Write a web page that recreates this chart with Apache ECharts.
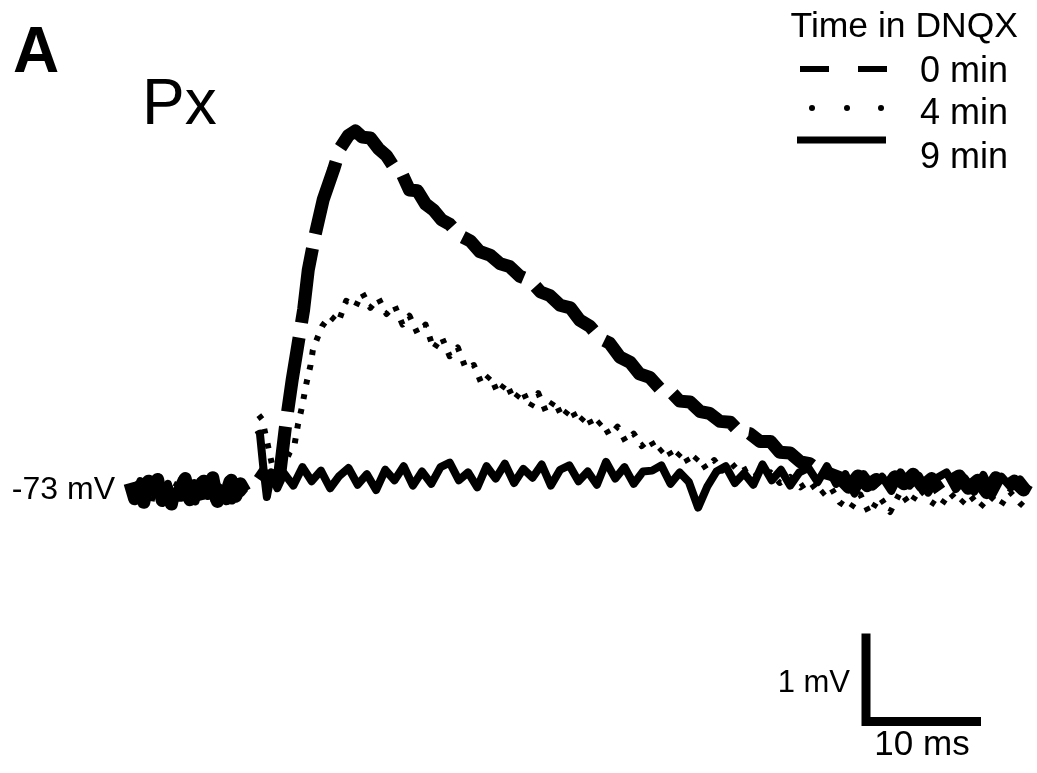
<!DOCTYPE html>
<html>
<head>
<meta charset="utf-8">
<script src="https://cdn.jsdelivr.net/npm/echarts@6/dist/echarts.min.js"></script>
<style>
html,body{margin:0;padding:0;background:#fff;}
#chart{width:1037px;height:773px;}
</style>
</head>
<body>
<div id="chart"></div>
<script>
// ---- data (time in ms, membrane potential in mV) ----
const seriesNames = ['0 min', '4 min', '9 min'];

const time0 = [0,0.4,0.8,1.2,1.6,2.0,2.4,2.8,3.2,3.6,4.0,4.4,4.8,5.2,5.6,6.0,6.4,6.8,7.2,7.6,8.0,8.4,8.8,9.2,9.6,10.0,10.6,
  11.1,12.2,13.0,13.5,14.1,14.6,15.1,15.5,16.1,16.8,17.7,18.3,19.0,19.6,20.2,20.9,21.6,22.3,23.0,23.7,24.3,25.0,25.7,26.4,27.1,27.8,28.7,29.6,30.4,31.3,32.2,33.0,33.9,34.8,35.7,36.5,37.4,38.3,39.1,40.0,40.9,41.7,42.6,43.5,44.3,45.2,46.1,47.0,47.8,48.7,49.6,50.4,51.3,52.2,53.0,53.9,54.8,55.7,56.5,57.4,58.3,59.1,60.0,60.9,
  61.7,62.5,63.3,64.1,64.9,65.7,66.5,67.3,68.1,68.9,69.7,70.5,71.3,72.1,72.9,73.7,74.5,75.3,76.1,76.9,77.7,78.0];
const mv0 = [-72.92,-73.1,-72.96,-73.14,-72.9,-73.05,-72.88,-73.12,-72.98,-73.16,-72.91,-73.06,-72.87,-73.11,-72.95,-73.15,-72.9,-73.04,-72.86,-73.13,-72.97,-73.1,-72.89,-73.07,-72.93,-73.02,null,
  -72.78,-72.88,-72.84,-72.30,-71.75,-71.35,-70.95,-70.50,-70.10,-69.70,-69.36,-69.11,-68.97,-68.92,-68.99,-69.00,-69.12,-69.20,-69.34,-69.42,-69.59,-69.60,-69.75,-69.82,-69.93,-69.98,-70.11,-70.17,-70.29,-70.33,-70.43,-70.46,-70.57,-70.62,-70.75,-70.79,-70.90,-70.93,-71.07,-71.14,-71.28,-71.33,-71.49,-71.55,-71.68,-71.72,-71.85,-71.88,-71.99,-72.00,-72.11,-72.13,-72.22,-72.23,-72.34,-72.36,-72.45,-72.45,-72.57,-72.58,-72.68,-72.70,-72.79,-72.82,
  -72.86,-72.97,-72.84,-72.95,-72.88,-73.0,-72.85,-72.93,-72.82,-72.96,-72.87,-73.02,-72.9,-72.84,-72.98,-72.89,-73.03,-72.86,-72.97,-72.9,-73.0,-72.93];

const time4 = [0.2,0.6,1.0,1.4,1.8,2.2,2.6,3.0,3.4,3.8,4.2,4.6,5.0,5.4,5.8,6.2,6.6,7.0,7.4,7.8,8.2,8.6,9.0,9.4,9.8,10.6,
  11.2,11.5,12.6,13.5,13.9,14.3,14.6,15.0,15.3,15.7,15.9,16.3,16.7,17.4,18.1,18.8,19.6,20.2,20.9,21.6,22.3,23.0,23.7,24.3,25.0,25.7,26.4,27.1,27.8,28.5,29.2,29.9,30.6,31.3,32.0,32.7,33.4,34.1,34.8,35.5,36.2,36.9,37.6,38.3,39.0,39.7,40.3,41.0,41.7,42.4,43.1,43.8,44.5,45.2,45.9,46.6,47.3,48.0,48.7,49.4,50.1,50.8,51.5,52.2,53.0,53.9,54.8,55.7,56.5,57.4,58.3,59.1,60.0,60.9,61.7,62.6,63.5,64.3,65.2,66.1,67.0,67.8,68.7,69.6,70.4,71.3,72.2,73.0,73.9,74.8,75.7,76.5,77.4,78.0];
const mv4 = [-73.05,-72.9,-73.15,-72.98,-73.18,-72.92,-73.08,-72.95,-73.2,-73.0,-72.9,-73.12,-72.97,-73.17,-72.93,-73.06,-73.14,-72.91,-73.1,-72.96,-73.19,-72.94,-73.08,-72.99,-73.03,null,
  -72.15,-72.2,-72.86,-72.68,-72.57,-72.49,-72.26,-72.03,-71.81,-71.58,-71.41,-71.27,-71.14,-71.02,-71.10,-70.85,-70.92,-70.76,-70.93,-70.82,-71.00,-70.90,-71.12,-71.02,-71.22,-71.12,-71.40,-71.26,-71.48,-71.38,-71.62,-71.58,-71.80,-71.70,-71.90,-71.78,-71.98,-71.86,-72.06,-71.90,-72.12,-71.98,-72.18,-72.06,-72.24,-72.14,-72.30,-72.22,-72.38,-72.28,-72.45,-72.36,-72.50,-72.42,-72.58,-72.50,-72.66,-72.56,-72.72,-72.62,-72.76,-72.66,-72.78,-72.68,-72.80,-72.74,-72.86,-72.80,-72.92,-72.85,-72.97,-72.90,-73.06,-72.96,-73.14,-73.22,-73.05,-73.27,-73.08,-73.25,-73.02,-73.17,-72.99,-73.13,-73.2,-73.03,-73.16,-73.05,-73.2,-73.07,-73.18,-73.02,-73.15,-73.22,-73.27];

const time9 = [0.1,0.5,0.9,1.3,1.7,2.1,2.5,2.9,3.3,3.7,4.1,4.5,4.9,5.3,5.7,6.1,6.5,6.9,7.3,7.7,8.1,8.5,8.9,9.3,9.7,10.0,10.6,
  11.0,11.3,11.6,11.9,12.3,12.8,
  13.4,14.2,15.0,15.8,16.6,17.4,18.2,19.0,19.8,20.6,21.4,22.2,23.0,23.8,24.6,25.4,26.2,27.0,27.8,28.6,29.4,30.2,31.0,31.8,32.6,33.4,34.2,35.0,35.8,36.6,37.4,38.2,39.0,39.8,40.6,41.4,42.2,43.0,43.8,44.6,45.4,46.2,47.0,47.8,48.6,49.4,50.2,51.0,51.8,52.6,53.4,54.2,55.0,55.8,56.6,57.4,58.2,59.0,59.8,60.6,61.4,62.2,63.0,63.8,64.6,65.4,66.2,67.0,67.8,68.6,69.4,70.2,71.0,71.8,72.6,73.4,74.2,75.0,75.8,76.6,77.4,78.0];
const mv9 = [-72.95,-73.08,-72.9,-73.12,-72.96,-73.04,-72.86,-73.1,-72.93,-73.15,-72.99,-72.88,-73.09,-72.94,-73.13,-72.9,-73.06,-72.87,-73.11,-72.97,-73.05,-72.89,-73.12,-72.95,-73.03,-72.98,null,
  -72.38,-72.36,-72.75,-73.08,-72.8,-72.98,
  -72.81,-72.95,-72.74,-72.90,-72.78,-72.98,-72.84,-72.75,-72.94,-72.82,-73.00,-72.77,-72.89,-72.73,-72.95,-72.79,-72.93,-72.74,-72.69,-72.89,-72.80,-72.97,-72.73,-72.87,-72.70,-72.92,-72.76,-72.86,-72.71,-72.95,-72.77,-72.72,-72.90,-72.79,-72.94,-72.68,-72.87,-72.74,-72.93,-72.79,-72.78,-72.72,-72.93,-72.80,-72.91,-73.20,-72.96,-72.79,-72.73,-72.92,-72.81,-72.94,-72.71,-72.89,-72.77,-72.95,-72.80,-72.75,-72.91,-72.73,-72.93,-72.82,-73.04,-72.82,-72.96,-72.85,-73.01,-72.80,-72.95,-72.84,-73.03,-72.86,-72.80,-72.99,-72.87,-73.02,-72.83,-73.05,-72.85,-72.97,-72.88,-72.98];

// scale bar: 1 mV vertical, 10 ms horizontal
const scaleBarTime = [64.0, 64.0, 74.0];
const scaleBarMv = [-74.63, -75.63, -75.63];

const restingLabel = -73;

// ---- build ----
function pairs(ts, vs) {
  const n = Math.min(ts.length, vs.length);
  const out = [];
  for (let i = 0; i < n; i++) out.push([ts[i], vs[i] === null ? '-' : vs[i]]);
  return out;
}
const FONT = '"Liberation Sans", Arial, Helvetica, sans-serif';

const chart = echarts.init(document.getElementById('chart'), null, {renderer: 'canvas'});
chart.setOption({
  animation: false,
  backgroundColor: '#fff',
  grid: {left: 130, top: 94, width: 897, height: 660, containLabel: false},
  xAxis: {type: 'value', min: 0, max: 78, show: false},
  yAxis: {
    type: 'value', min: -76, max: -68.5, interval: 0.5,
    axisLine: {show: false}, axisTick: {show: false}, splitLine: {show: false},
    axisLabel: {
      show: true, margin: 15, color: '#000', fontSize: 32, fontFamily: FONT,
      padding: [0, 0, 12, 0],
      formatter: v => Math.abs(v - restingLabel) < 1e-6 ? restingLabel + ' mV' : ''
    }
  },
  series: [
    {name: seriesNames[0], type: 'line', data: pairs(time0, mv0), symbol: 'none', silent: true,
      lineStyle: {color: '#000', width: 13, type: [75, 15], cap: 'butt', join: 'round'}},
    {name: seriesNames[1], type: 'line', data: pairs(time4, mv4), symbol: 'none', silent: true,
      lineStyle: {color: '#000', width: 6, type: [5, 10], cap: 'butt', join: 'round'}},
    {name: seriesNames[2], type: 'line', data: pairs(time9, mv9), symbol: 'none', silent: true,
      lineStyle: {color: '#000', width: 8, type: 'solid', join: 'round'}},
    {name: 'scale', type: 'line', data: pairs(scaleBarTime, scaleBarMv), symbol: 'none', silent: true, clip: false,
      lineStyle: {color: '#000', width: 9, join: 'miter', cap: 'butt'}}
  ],
  graphic: [
    {type: 'text', left: 13, top: 22, style: {text: 'A', font: 'bold 64px ' + FONT, fill: '#000'}},
    {type: 'text', left: 142, top: 74, style: {text: 'Px', font: '64px ' + FONT, fill: '#000'}},
    {type: 'text', style: {x: 1018, y: 27, text: 'Time in DNQX', font: '35.5px ' + FONT, fill: '#000', textAlign: 'right', textVerticalAlign: 'middle'}},
    {type: 'text', style: {x: 1008, y: 72, text: seriesNames[0], font: '36px ' + FONT, fill: '#000', textAlign: 'right', textVerticalAlign: 'middle'}},
    {type: 'text', style: {x: 1008, y: 114, text: seriesNames[1], font: '36px ' + FONT, fill: '#000', textAlign: 'right', textVerticalAlign: 'middle'}},
    {type: 'text', style: {x: 1008, y: 158, text: seriesNames[2], font: '36px ' + FONT, fill: '#000', textAlign: 'right', textVerticalAlign: 'middle'}},
    {type: 'line', shape: {x1: 800, y1: 69, x2: 887, y2: 69}, style: {stroke: '#000', lineWidth: 6, lineDash: [29, 29]}},
    {type: 'circle', shape: {cx: 812, cy: 108, r: 3}, style: {fill: '#000'}},
    {type: 'circle', shape: {cx: 847, cy: 108, r: 3}, style: {fill: '#000'}},
    {type: 'circle', shape: {cx: 881, cy: 108, r: 3}, style: {fill: '#000'}},
    {type: 'line', shape: {x1: 797, y1: 140, x2: 886, y2: 140}, style: {stroke: '#000', lineWidth: 7}},
    {type: 'text', style: {x: 850, y: 683, text: '1 mV', font: '31px ' + FONT, fill: '#000', textAlign: 'right', textVerticalAlign: 'middle'}},
    {type: 'text', style: {x: 922, y: 745, text: '10 ms', font: '35px ' + FONT, fill: '#000', textAlign: 'center', textVerticalAlign: 'middle'}}
  ]
});
</script>
</body>
</html>
